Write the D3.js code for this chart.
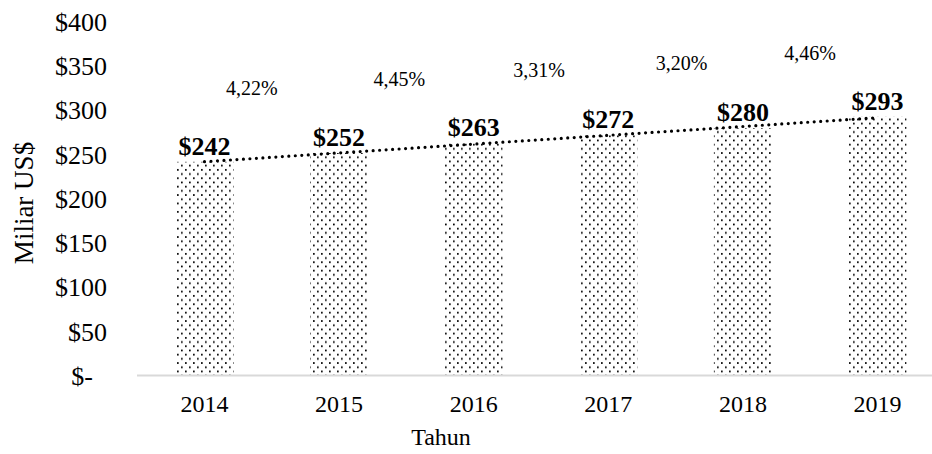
<!DOCTYPE html>
<html>
<head>
<meta charset="utf-8">
<script src="https://cdn.jsdelivr.net/npm/d3@7"></script>
<style>
  html, body { margin: 0; padding: 0; background: #fff; }
  svg { display: block; }
  svg text { font-family: "Liberation Serif", "Times New Roman", serif; }
</style>
</head>
<body>
<svg id="chart" width="932" height="454"></svg>
<script>
// ---- data ----
const years = ["2014", "2015", "2016", "2017", "2018", "2019"];
const values = [242, 252, 263, 272, 280, 293];
const growthLabels = ["4,22%", "4,45%", "3,31%", "3,20%", "4,46%"];
const yTicks = [0, 50, 100, 150, 200, 250, 300, 350, 400];
const yTickLabels = ["$-", "$50", "$100", "$150", "$200", "$250", "$300", "$350", "$400"];
const xTitle = "Tahun";
const yTitle = "Miliar US$";

// ---- layout ----
const W = 932, H = 454;
const FONT = "Liberation Serif";
const growthNudge = [-20, -7, -2, 6, 0];   // manual text-box offsets (px)
const svg = d3.select("#chart");
svg.append("rect").attr("width", W).attr("height", H).attr("fill", "#fff");

const x = d3.scaleBand().domain(years).range([137.2, 944.8])
  .paddingInner(0.569).paddingOuter(0.2845);
const y = d3.scaleLinear().domain([0, 400]).range([376, 22]);

// dotted pattern
const defs = svg.append("defs");
const pat = defs.append("pattern").attr("id", "dots")
  .attr("patternUnits", "userSpaceOnUse").attr("width", 8).attr("height", 8.4);
pat.append("rect").attr("x", 1).attr("y", 1).attr("width", 1.7).attr("height", 1.7).attr("fill", "#000");
pat.append("rect").attr("x", 5).attr("y", 5.2).attr("width", 1.7).attr("height", 1.7).attr("fill", "#000");

// y axis labels
const yAxis = d3.axisLeft(y).tickValues(yTicks)
  .tickFormat((d, i) => yTickLabels[i]).tickSize(0).tickPadding(0);
const gy = svg.append("g").attr("transform", "translate(107,0)").call(yAxis)
  .attr("font-family", FONT);
gy.select(".domain").remove();
gy.selectAll("text")
  .attr("font-family", FONT)
  .attr("font-size", 26).attr("fill", "#000")
  .attr("dx", d => d === 0 ? -14 : 0);

// bars
svg.append("g").selectAll("rect").data(values).join("rect")
  .attr("x", (d, i) => x(years[i]))
  .attr("y", d => y(d))
  .attr("width", x.bandwidth())
  .attr("height", d => y(0) - y(d))
  .attr("fill", "url(#dots)");

// x axis line
svg.append("line").attr("x1", 137).attr("x2", W).attr("y1", 375.5).attr("y2", 375.5)
  .attr("stroke", "#d9d9d9").attr("stroke-width", 2);

// category labels
const xAxis = d3.axisBottom(x).tickSize(0).tickPadding(0);
const gx = svg.append("g").attr("transform", "translate(0,394)").call(xAxis)
  .attr("font-family", FONT);
gx.select(".domain").remove();
gx.selectAll("text")
  .attr("font-family", FONT)
  .attr("font-size", 24).attr("fill", "#000")
  .attr("dy", "0.75em");

// linear trendline
const mx = d3.mean(values, (d, i) => i), my = d3.mean(values);
const slope = d3.sum(values, (d, i) => (i - mx) * (d - my)) / d3.sum(values, (d, i) => (i - mx) * (i - mx));
const icpt = my - slope * mx;
const trend = values.map((d, i) => [x(years[i]) + x.bandwidth() / 2, y(icpt + slope * i)]);
svg.append("path")
  .attr("d", d3.line()(trend))
  .attr("fill", "none").attr("stroke", "#000")
  .attr("stroke-width", 3.2).attr("stroke-linecap", "round")
  .attr("stroke-dasharray", "0 6.5");

// value labels
svg.append("g").selectAll("text").data(values).join("text")
  .attr("x", (d, i) => x(years[i]) + x.bandwidth() / 2)
  .attr("y", d => y(d) - 7)
  .attr("text-anchor", "middle")
  .attr("font-family", FONT)
  .attr("font-size", 26).attr("font-weight", "bold").attr("fill", "#000")
  .text(d => "$" + d);

// growth labels
svg.append("g").selectAll("text").data(growthLabels).join("text")
  .attr("x", (d, i) => (x(years[i]) + x(years[i + 1])) / 2 + x.bandwidth() / 2 + growthNudge[i])
  .attr("y", (d, i) => y((values[i] + values[i + 1]) / 2) - 62)
  .attr("text-anchor", "middle")
  .attr("font-family", FONT)
  .attr("font-size", 20).attr("fill", "#000")
  .text(d => d);

// axis titles
svg.append("text").attr("x", 441).attr("y", 445).attr("text-anchor", "middle")
  .attr("font-family", FONT)
  .attr("font-size", 24).attr("fill", "#000").text(xTitle);
svg.append("text").attr("transform", "translate(33,203) rotate(-90)")
  .attr("text-anchor", "middle")
  .attr("font-family", FONT)
  .attr("font-size", 27).attr("fill", "#000").text(yTitle);
</script>
</body>
</html>
